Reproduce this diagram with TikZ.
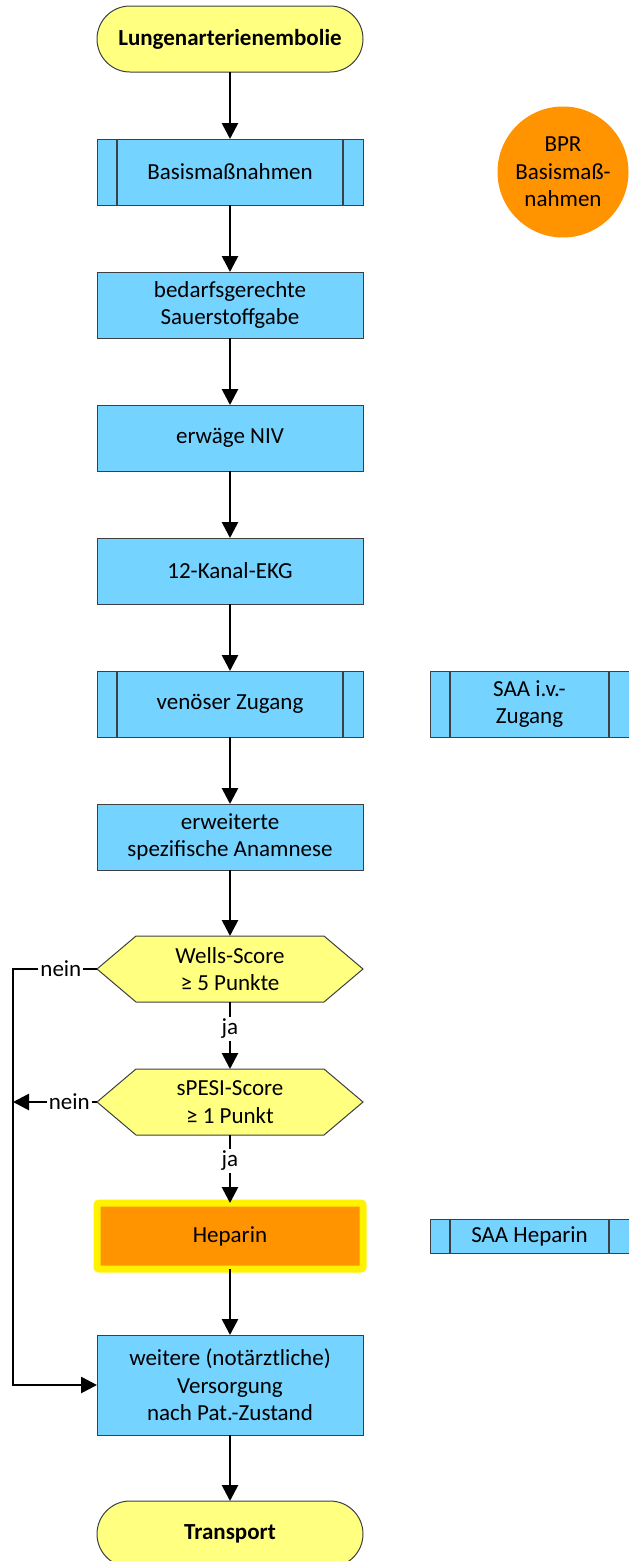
\documentclass[tikz,border=0pt]{standalone}
\usepackage{fontspec}
\setmainfont{Carlito}
\usetikzlibrary{positioning,arrows.meta,backgrounds}
\definecolor{procblue}{RGB}{117,211,255}
\definecolor{termyellow}{RGB}{255,255,128}
\definecolor{drugorange}{RGB}{255,147,0}
\definecolor{boxgray}{RGB}{60,64,68}
\tikzset{
  >={Triangle[length=16pt,width=16pt]},
  base/.style={draw=boxgray, line width=1pt, inner sep=0pt, outer sep=0pt,
    align=center, text=black, font=\fontsize{23}{27.5}\selectfont},
  term/.style={base, fill=termyellow, rounded corners=33pt,
    minimum width=266pt, minimum height=66pt,
    font=\fontsize{23}{27.5}\selectfont\bfseries},
  proc/.style={base, fill=procblue, minimum width=266pt, minimum height=66pt},
  subproc/.style={proc, path picture={
      \draw[boxgray, line width=1.2pt]
        ([xshift=20pt]path picture bounding box.north west) --
        ([xshift=20pt]path picture bounding box.south west)
        ([xshift=-20pt]path picture bounding box.north east) --
        ([xshift=-20pt]path picture bounding box.south east);}},
  decision/.style={base, draw=none, minimum width=266pt, minimum height=66pt},
  hexline/.style={draw=boxgray, line width=1pt, fill=termyellow},
  drug/.style={base, fill=drugorange, draw=yellow, line width=7pt,
    rounded corners=2pt, minimum width=266pt, minimum height=66pt},
  bpr/.style={base, circle, fill=drugorange, draw=drugorange, minimum size=130pt},
  flow/.style={->, line width=2.7pt, black},
  lbl/.style={fill=white, inner sep=2pt, text=black,
    font=\fontsize{23}{27.5}\selectfont},
}

\begin{document}
\begin{tikzpicture}[x=1pt, y=-1pt, node distance=67pt]
  \useasboundingbox (0,0) rectangle (629,1561);

  % main column
  \node[term]     (start)    at (230,39) {Lungenarterienembolie};
  \node[subproc]  (basis)    [below=of start] {Basisma\ss nahmen};
  \node[proc]     (sauer)    [below=of basis] {bedarfsgerechte\\Sauerstoffgabe};
  \node[proc]     (niv)      [below=of sauer] {erwäge NIV};
  \node[proc]     (ekg)      [below=of niv] {12-Kanal-EKG};
  \node[subproc]  (zugang)   [below=of ekg] {venöser Zugang};
  \node[proc]     (anamnese) [below=of zugang] {erweiterte\\spezifische Anamnese};
  \node[decision] (wells)    [below=66pt of anamnese] {Wells-Score\\≥ 5 Punkte};
  \node[decision] (spesi)    [below=of wells] {sPESI-Score\\≥ 1 Punkt};
  \node[drug]     (heparin)  [below=68pt of spesi] {Heparin};
  \node[proc, minimum height=100pt] (weitere) [below=66pt of heparin]
    {weitere (notärztliche)\\Versorgung\\nach Pat.-Zustand};
  \node[term]     (transport) [below=66pt of weitere] {Transport};

  % side column
  \node[bpr] (bprbasis) [right=135pt of basis] {BPR\\Basisma\ss -\\nahmen};
  \node[subproc, minimum width=199pt] (saaiv) [right=of zugang] {SAA i.v.-\\Zugang};
  \node[subproc, minimum width=199pt, minimum height=34pt] (saahep)
    [right=of heparin] {SAA Heparin};

  % hexagon outlines
  \begin{scope}[on background layer]
    \foreach \n in {wells, spesi}
      \draw[hexline] (\n.west) -- ([xshift=39pt]\n.north west)
        -- ([xshift=-39pt]\n.north east) -- (\n.east)
        -- ([xshift=-39pt]\n.south east) -- ([xshift=39pt]\n.south west) -- cycle;
  \end{scope}

  % connectors
  \foreach \a/\b in {start/basis, basis/sauer, sauer/niv, niv/ekg, ekg/zugang,
                     zugang/anamnese, anamnese/wells, heparin/weitere,
                     weitere/transport}
    \draw[flow] (\a) -- (\b);
  \draw[flow] (wells) -- node[lbl, pos=0.4] {ja} (spesi);
  \draw[flow] (spesi) -- node[lbl, pos=0.38] {ja} (heparin);

  \coordinate[left=84pt of wells.west] (rail);
  \draw[flow] (wells.west) -- node[lbl, pos=0.43] {nein} (rail) |- (weitere.west);
  \draw[flow] (spesi.west) -- node[lbl, pos=0.33] {nein} (spesi.west -| rail);
\end{tikzpicture}
\end{document}
